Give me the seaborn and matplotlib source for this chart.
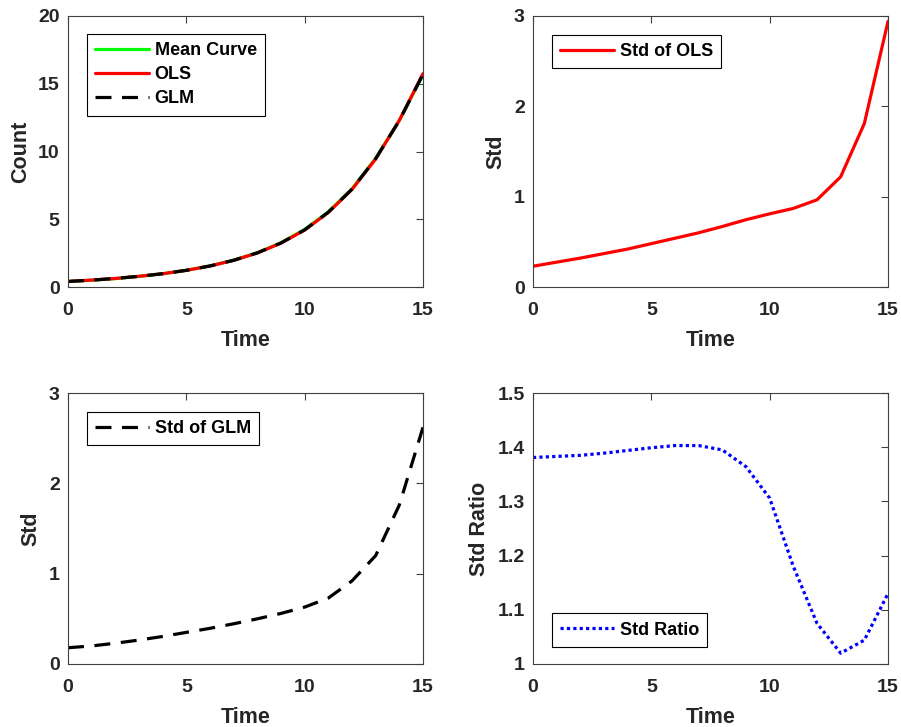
import numpy as np
import pandas as pd
import matplotlib
matplotlib.use("Agg")
import matplotlib.pyplot as plt
import seaborn as sns

# ---------------- data ----------------
time = list(range(16))
mean_curve = [0.40, 0.50, 0.62, 0.78, 0.98, 1.23, 1.56, 1.98, 2.53, 3.27, 4.25, 5.55, 7.25, 9.50, 12.30, 15.65]
ols_fit    = [0.41, 0.51, 0.63, 0.79, 0.98, 1.23, 1.55, 1.97, 2.51, 3.24, 4.20, 5.50, 7.20, 9.45, 12.30, 15.75]
glm_fit    = [0.41, 0.51, 0.63, 0.79, 0.98, 1.23, 1.55, 1.97, 2.52, 3.25, 4.22, 5.52, 7.22, 9.47, 12.28, 15.70]
std_ols    = [0.23, 0.275, 0.32, 0.37, 0.42, 0.48, 0.54, 0.60, 0.67, 0.745, 0.81, 0.87, 0.965, 1.22, 1.81, 2.94]
std_glm    = [0.18, 0.20, 0.23, 0.265, 0.305, 0.35, 0.395, 0.445, 0.50, 0.56, 0.63, 0.73, 0.92, 1.20, 1.76, 2.62]
std_ratio  = [1.381, 1.383, 1.385, 1.389, 1.394, 1.399, 1.403, 1.403, 1.395, 1.364, 1.306, 1.180, 1.075, 1.020, 1.044, 1.130]

xticks = [0, 5, 10, 15]

# ---------------- style ----------------
sns.set_style("white")
plt.rcParams["font.family"] = ["Liberation Sans", "DejaVu Sans"]
plt.rcParams["font.weight"] = "bold"
plt.rcParams["axes.labelweight"] = "bold"

fig = plt.figure(figsize=(9.01, 7.27), dpi=100)
W, H = 901, 727

def make_ax(l, t, r, b):
    return fig.add_axes([l / W, 1 - b / H, (r - l) / W, (b - t) / H])

ax1 = make_ax(68, 16, 423, 287)
ax2 = make_ax(533, 16, 888, 287)
ax3 = make_ax(68, 393, 423, 664)
ax4 = make_ax(533, 393, 888, 664)

LW = 2.3
dash = (5, 3.3)

df1 = pd.DataFrame({"Time": time, "Mean Curve": mean_curve, "OLS": ols_fit, "GLM": glm_fit})
sns.lineplot(data=df1, x="Time", y="Mean Curve", ax=ax1, color=(0, 1, 0), lw=LW, label="Mean Curve")
sns.lineplot(data=df1, x="Time", y="OLS", ax=ax1, color=(1, 0, 0), lw=LW, label="OLS")
sns.lineplot(data=df1, x="Time", y="GLM", ax=ax1, color="black", lw=LW, label="GLM",
             linestyle=(0, dash))

df2 = pd.DataFrame({"Time": time, "Std": std_ols})
sns.lineplot(data=df2, x="Time", y="Std", ax=ax2, color=(1, 0, 0), lw=LW, label="Std of OLS")

df3 = pd.DataFrame({"Time": time, "Std": std_glm})
sns.lineplot(data=df3, x="Time", y="Std", ax=ax3, color="black", lw=LW, label="Std of GLM",
             linestyle=(0, dash))

df4 = pd.DataFrame({"Time": time, "Std Ratio": std_ratio})
sns.lineplot(data=df4, x="Time", y="Std Ratio", ax=ax4, color=(0, 0, 1), lw=LW, label="Std Ratio",
             linestyle=(0, (1, 1)))

settings = [
    (ax1, "Count", (0, 20), [0, 5, 10, 15, 20], ["0", "5", "10", "15", "20"], "upper left", (0.0535, 0.934)),
    (ax2, "Std", (0, 3), [0, 1, 2, 3], ["0", "1", "2", "3"], "upper left", (0.0535, 0.93)),
    (ax3, "Std", (0, 3), [0, 1, 2, 3], ["0", "1", "2", "3"], "upper left", (0.0535, 0.931)),
    (ax4, "Std Ratio", (1, 1.5), [1, 1.1, 1.2, 1.3, 1.4, 1.5], ["1", "1.1", "1.2", "1.3", "1.4", "1.5"], "lower left", (0.0535, 0.064)),
]

tc = "#262626"
for ax, ylab, ylim, yt, ytl, loc, anchor in settings:
    ax.set_xlim(0, 15)
    ax.set_ylim(*ylim)
    ax.set_xticks(xticks)
    ax.set_xticklabels([str(t) for t in xticks])
    ax.set_yticks(yt)
    ax.set_yticklabels(ytl)
    ax.set_xlabel("Time", fontsize=15.5, fontweight="bold", color=tc, labelpad=8)
    ax.set_ylabel(ylab, fontsize=15.5, fontweight="bold", color=tc, labelpad=5)
    ax.tick_params(axis="both", direction="in", length=5, width=0.8, color="#404040",
                   top=True, right=True, labelsize=14, labelcolor=tc)
    ax.tick_params(axis="x", pad=11)
    ax.tick_params(axis="y", pad=6)
    for lab in ax.get_xticklabels() + ax.get_yticklabels():
        lab.set_fontweight("bold")
    for s in ax.spines.values():
        s.set_visible(True)
        s.set_color("#404040")
        s.set_linewidth(0.8)
    leg = ax.legend(loc=loc, bbox_to_anchor=anchor, borderaxespad=0, frameon=True,
                    fancybox=False, edgecolor="black", framealpha=1,
                    prop={"size": 13, "weight": "bold"}, handlelength=3.0,
                    handletextpad=0.3, labelspacing=0.4, borderpad=0.45)
    leg.get_frame().set_linewidth(0.8)
    for t in leg.get_texts():
        t.set_color("black")

fig.savefig("out.png", dpi=100)
